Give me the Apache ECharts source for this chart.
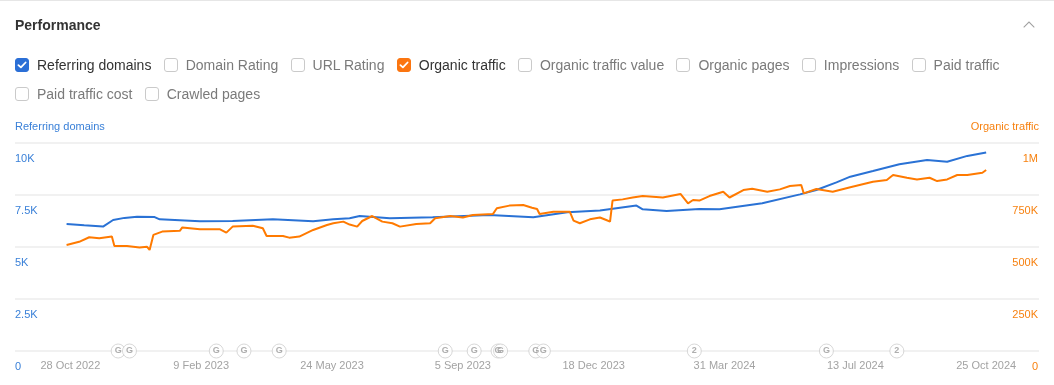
<!DOCTYPE html>
<html>
<head>
<meta charset="utf-8">
<script src="https://cdn.jsdelivr.net/npm/echarts@6/dist/echarts.min.js"></script>
<style>
html,body{margin:0;padding:0;background:#fff;}
body{width:1054px;height:385px;position:relative;overflow:hidden;font-family:"Liberation Sans",Arial,Helvetica,sans-serif;}
#chart{position:absolute;left:0;top:0;width:1054px;height:385px;}
#topline{position:absolute;left:0;top:0;width:1054px;height:1px;background:#e6e6e6;}
#title{position:absolute;left:15px;top:16px;font-size:14px;font-weight:bold;color:#333;line-height:18px;}
#chev{position:absolute;left:1025px;top:23px;width:7px;height:7px;border-left:1.5px solid #a0a0a0;border-top:1.5px solid #a0a0a0;transform:rotate(45deg);}
.row{position:absolute;left:15px;display:flex;align-items:center;height:20px;}
.item{display:flex;align-items:center;margin-right:12.3px;font-size:14px;color:#7a7a7a;white-space:nowrap;}
.item.on{color:#333;}
.box{width:14px;height:14px;box-sizing:border-box;border:1px solid #cacaca;border-radius:3px;margin-right:8px;display:flex;align-items:center;justify-content:center;}
</style>
</head>
<body>
<div id="chart"></div>
<div id="topline"></div>
<div id="title">Performance</div>
<div id="chev"></div>
<div class="row" id="row1" style="top:55px"></div>
<div class="row" id="row2" style="top:84px"></div>
<script>
// ---------- DATA ----------
const legendRow1 = ['Referring domains','Domain Rating','URL Rating','Organic traffic','Organic traffic value','Organic pages','Impressions','Paid traffic'];
const legendRow2 = ['Paid traffic cost','Crawled pages'];
const checkedItems = ['Referring domains','Organic traffic'];

const xTickDates  = ['2022-10-28','2023-02-09','2023-05-24','2023-09-05','2023-12-18','2024-03-31','2024-07-13','2024-10-25'];
const xTickLabels = ['28 Oct 2022','9 Feb 2023','24 May 2023','5 Sep 2023','18 Dec 2023','31 Mar 2024','13 Jul 2024','25 Oct 2024'];
const leftTickLabels  = ['0','2.5K','5K','7.5K','10K'];
const rightTickLabels = ['0','250K','500K','750K','1M'];

// Referring domains (left axis)
const rdDates = ['2022-10-25','2022-11-08','2022-11-23','2022-12-01','2022-12-10','2022-12-20','2023-01-03','2023-01-07','2023-02-08','2023-03-06','2023-04-07','2023-05-09','2023-05-25','2023-06-07','2023-06-15','2023-07-09','2023-08-12','2023-09-26','2023-10-31','2023-11-27','2023-12-23','2024-01-21','2024-01-26','2024-02-14','2024-03-11','2024-03-27','2024-04-30','2024-05-30','2024-06-12','2024-06-28','2024-07-09','2024-07-27','2024-08-17','2024-09-08','2024-09-24','2024-10-10','2024-10-25'];
const rdValues = [6100,6040,5980,6300,6400,6460,6440,6330,6240,6250,6330,6240,6330,6380,6490,6380,6430,6540,6430,6670,6750,6990,6810,6730,6830,6810,7100,7530,7740,8110,8380,8650,8980,9180,9100,9380,9540];

// Organic traffic (right axis)
const otDates = ['2022-10-25','2022-11-04','2022-11-12','2022-11-20','2022-11-30','2022-12-02','2022-12-12','2022-12-22','2022-12-28','2022-12-30','2023-01-02','2023-01-09','2023-01-23','2023-01-25','2023-02-08','2023-02-24','2023-03-01','2023-03-06','2023-03-22','2023-03-30','2023-04-02','2023-04-15','2023-04-20','2023-04-28','2023-05-09','2023-05-20','2023-05-25','2023-06-02','2023-06-07','2023-06-13','2023-06-17','2023-06-25','2023-07-03','2023-07-11','2023-07-17','2023-07-30','2023-08-10','2023-08-14','2023-08-26','2023-09-05','2023-09-13','2023-09-29','2023-10-02','2023-10-12','2023-10-23','2023-10-30','2023-11-03','2023-11-05','2023-11-16','2023-11-29','2023-12-02','2023-12-07','2023-12-15','2023-12-23','2023-12-28','2023-12-31','2024-01-02','2024-01-10','2024-01-18','2024-01-26','2024-02-11','2024-02-25','2024-03-02','2024-03-06','2024-03-11','2024-03-19','2024-03-30','2024-04-04','2024-04-15','2024-04-22','2024-05-04','2024-05-14','2024-05-22','2024-05-31','2024-06-02','2024-06-12','2024-06-25','2024-07-09','2024-07-27','2024-08-07','2024-08-12','2024-08-23','2024-08-31','2024-09-10','2024-09-16','2024-09-24','2024-10-02','2024-10-10','2024-10-22','2024-10-25'];
const otValues = [510000,525000,547000,542000,550000,505000,505000,498000,501000,486000,558000,574000,578000,594000,585000,585000,569000,598000,602000,590000,553000,553000,545000,550000,582000,606000,614000,622000,608000,598000,625000,649000,622000,614000,598000,611000,614000,638000,649000,642000,654000,659000,686000,699000,702000,689000,683000,659000,670000,670000,627000,614000,633000,642000,630000,622000,723000,729000,738000,745000,738000,755000,710000,726000,723000,745000,766000,738000,774000,780000,766000,777000,793000,798000,758000,779000,766000,787000,814000,822000,846000,833000,825000,833000,817000,825000,846000,846000,857000,870000];

// Algorithm-update markers on the time axis
const eventDates  = ['2022-12-05','2022-12-14','2023-02-21','2023-03-15','2023-04-12','2023-08-22','2023-09-14','2023-10-03','2023-10-05','2023-11-02','2023-11-08','2024-03-07','2024-06-20','2024-08-15'];
const eventLabels = ['G','G','G','G','G','G','G','G','G','G','G','2','G','2'];

// ---------- HELPERS ----------
const ORIGIN = Date.UTC(2022, 9, 28);
function dayOf(s){ const p = s.split('-').map(Number); return Math.round((Date.UTC(p[0], p[1]-1, p[2]) - ORIGIN) / 86400000); }
const xTickDays = xTickDates.map(dayOf);

// ---------- LEGEND (checkboxes) ----------
const BLUE = '#2a72d5', ORANGE = '#ff7a00';
const BLUE_TXT = '#3a80d8', ORANGE_TXT = '#f7810f';
const checkColor = {'Referring domains': '#2b6fd6', 'Organic traffic': '#fb7510'};
const checkSvg = '<svg width="10" height="8" viewBox="0 0 10 8"><path d="M1.4 4.1 L3.9 6.4 L8.6 1.5" fill="none" stroke="#fff" stroke-width="1.8" stroke-linecap="round" stroke-linejoin="round"/></svg>';
function fillRow(id, items){
  const row = document.getElementById(id);
  items.forEach(name => {
    const on = checkedItems.indexOf(name) >= 0;
    const it = document.createElement('div');
    it.className = 'item' + (on ? ' on' : '');
    const b = document.createElement('span');
    b.className = 'box';
    if (on) { b.style.background = checkColor[name]; b.style.borderColor = checkColor[name]; b.innerHTML = checkSvg; }
    const t = document.createElement('span');
    t.textContent = name;
    it.appendChild(b); it.appendChild(t);
    row.appendChild(it);
  });
}
fillRow('row1', legendRow1);
fillRow('row2', legendRow2);

// ---------- CHART ----------
const FONT = '"Liberation Sans", Arial, Helvetica, sans-serif';
const chart = echarts.init(document.getElementById('chart'), null, {renderer: 'canvas'});
const option = {
  animation: false,
  textStyle: {fontFamily: FONT},
  grid: {left: 15, right: 15, top: 143, bottom: 34, containLabel: false, outerBoundsMode: 'none'},
  graphic: [
    {type: 'text', left: 15, top: 121, silent: true,
     style: {text: 'Referring domains', fill: BLUE_TXT, fontSize: 11, fontFamily: FONT}}
  ],
  xAxis: {
    type: 'value', min: -44, max: 770,
    axisLine: {show: false}, axisTick: {show: false}, splitLine: {show: false},
    axisLabel: {
      customValues: xTickDays,
      formatter: function (v) { const i = xTickDays.indexOf(Math.round(v)); return i >= 0 ? xTickLabels[i] : ''; },
      color: '#a3a3a3', fontSize: 11, margin: 9, fontFamily: FONT, hideOverlap: false
    }
  },
  yAxis: [
    {
      type: 'value', min: 0, max: 10000, interval: 2500, position: 'left',
      axisLine: {show: false}, axisTick: {show: false},
      axisLabel: {inside: true, margin: 0, color: BLUE_TXT, fontSize: 11, align: 'left', verticalAlign: 'top', padding: [10, 0, 0, 0], fontFamily: FONT,
        formatter: function (v, i) { return leftTickLabels[i]; }},
      splitLine: {show: true, lineStyle: {color: '#ececec', width: 1.5}}
    },
    {
      type: 'value', min: 0, max: 1000000, interval: 250000, position: 'right',
      name: 'Organic traffic', nameLocation: 'end', nameGap: 16,
      nameTextStyle: {color: ORANGE_TXT, fontSize: 11, align: 'right', verticalAlign: 'middle', fontFamily: FONT},
      axisLine: {show: false}, axisTick: {show: false},
      axisLabel: {inside: true, margin: 1, color: ORANGE_TXT, fontSize: 11, align: 'right', verticalAlign: 'top', padding: [10, 0, 0, 0], fontFamily: FONT,
        formatter: function (v, i) { return rightTickLabels[i]; }},
      splitLine: {show: false}
    }
  ],
  series: [
    {
      name: 'Referring domains', type: 'line', xAxisIndex: 0, yAxisIndex: 0,
      showSymbol: false, symbol: 'none', z: 3,
      lineStyle: {color: BLUE, width: 2},
      data: rdDates.map((d, i) => [dayOf(d), rdValues[i]])
    },
    {
      name: 'Organic traffic', type: 'line', xAxisIndex: 0, yAxisIndex: 1,
      showSymbol: false, symbol: 'none', z: 4,
      lineStyle: {color: ORANGE, width: 2},
      data: otDates.map((d, i) => [dayOf(d), otValues[i]])
    },
    {
      name: 'Updates', type: 'scatter', xAxisIndex: 0, yAxisIndex: 0, clip: false, z: 6,
      symbol: 'circle', symbolSize: 14,
      itemStyle: {color: '#fff', borderColor: '#cdcdcd', borderWidth: 1},
      label: {show: true, position: 'inside', formatter: function (p) { return p.value[2]; },
        fontSize: 9, fontWeight: 'bold', color: '#9a9a9a', fontFamily: FONT},
      data: eventDates.map((d, i) => [dayOf(d), 0, eventLabels[i]])
    }
  ]
};
chart.setOption(option);
</script>
</body>
</html>
